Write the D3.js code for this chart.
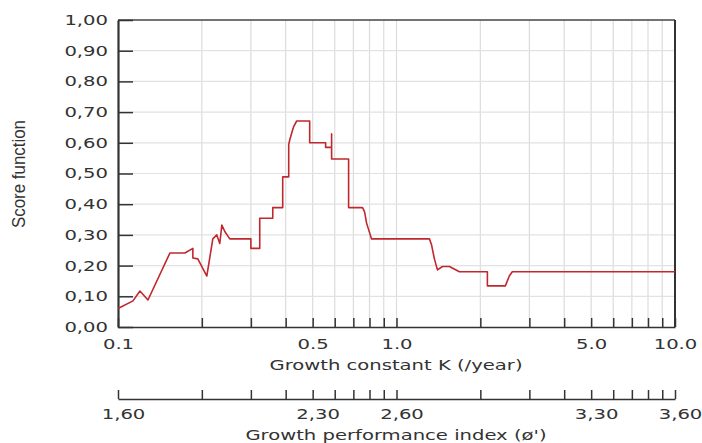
<!DOCTYPE html>
<html>
<head>
  <meta charset="UTF-8">
  <title>Score function</title>
  <script src="https://cdn.jsdelivr.net/npm/d3@7"></script>
  <style>
    body { margin: 0; background: #fff; }
    text { font-family: "DejaVu Sans", Verdana, sans-serif; fill: #333; }
  </style>
</head>
<body>
<div id="chart"></div>
<script>
// growth constant K (/year) and score
var kValues = [0.1, 0.1132, 0.1199, 0.1281, 0.1536, 0.1739, 0.1857, 0.1857, 0.1935, 0.2084,
  0.219, 0.2263, 0.232, 0.236, 0.2418, 0.252, 0.30, 0.30, 0.3228, 0.3228,
  0.3595, 0.3595, 0.3903, 0.3903, 0.4102, 0.4102, 0.4136, 0.4205, 0.4274, 0.4381,
  0.4878, 0.4878, 0.5566, 0.5566, 0.5848, 0.5848, 0.5848, 0.673, 0.673, 0.7553,
  0.768, 0.7806, 0.7936, 0.8136, 1.313, 1.335, 1.368, 1.403, 1.462, 1.549,
  1.682, 2.12, 2.12, 2.459, 2.541, 2.605, 10];
var scores = [0.06, 0.085, 0.117, 0.088, 0.241, 0.241, 0.256, 0.225, 0.222, 0.166,
  0.287, 0.30, 0.272, 0.332, 0.311, 0.287, 0.287, 0.256, 0.256, 0.354,
  0.354, 0.389, 0.389, 0.489, 0.489, 0.594, 0.609, 0.632, 0.653, 0.671,
  0.671, 0.60, 0.60, 0.585, 0.585, 0.629, 0.547, 0.547, 0.389, 0.389,
  0.375, 0.339, 0.318, 0.287, 0.287, 0.269, 0.222, 0.186, 0.197, 0.197,
  0.18, 0.18, 0.134, 0.134, 0.166, 0.18, 0.18];

var yTicks = [0, 0.1, 0.2, 0.3, 0.4, 0.5, 0.6, 0.7, 0.8, 0.9, 1.0];
var kTicks = [0.1, 0.2, 0.3, 0.4, 0.5, 0.6, 0.7, 0.8, 0.9, 1, 2, 3, 4, 5, 6, 7, 8, 9, 10];
var kLabelValues = [0.1, 0.5, 1, 5, 10];
var kLabels = ["0.1", "0.5", "1.0", "5.0", "10.0"];
var phiLabels = ["1,60", "2,30", "2,60", "3,30", "3,60"];

var W = 702, H = 443;
var plotL = 118, plotR = 675, plotT = 20, plotB = 327;
var stretch = 1.4;

var svg = d3.select("#chart").append("svg").attr("width", W).attr("height", H);

var x = d3.scaleLog().domain([0.1, 10]).range([plotL, plotR]);
var y = d3.scaleLinear().domain([0, 1]).range([plotB, plotT]);

// grid
svg.append("g").selectAll("line").data(kTicks.slice(1, -1)).join("line")
  .attr("x1", d => x(d)).attr("x2", d => x(d))
  .attr("y1", plotT).attr("y2", plotB)
  .attr("stroke", "#dcdcdc").attr("stroke-width", 1.2);
svg.append("g").selectAll("line").data(yTicks.slice(1, -1)).join("line")
  .attr("x1", plotL).attr("x2", plotR)
  .attr("y1", d => y(d)).attr("y2", d => y(d))
  .attr("stroke", "#e2e2e2").attr("stroke-width", 1.2);

// frame top and right
svg.append("line").attr("x1", plotL).attr("x2", plotR).attr("y1", plotT).attr("y2", plotT)
  .attr("stroke", "#444").attr("stroke-width", 1.5);
svg.append("line").attr("x1", plotR).attr("x2", plotR).attr("y1", plotT).attr("y2", plotB)
  .attr("stroke", "#333").attr("stroke-width", 2);

function labelFor(d) {
  var i = kLabelValues.indexOf(d);
  return i < 0 ? "" : kLabels[i];
}

// bottom K axis
var xAxis = d3.axisBottom(x).tickValues(kTicks).tickFormat(labelFor)
  .tickSizeInner(-9).tickSizeOuter(0).tickPadding(12);
var gx = svg.append("g").attr("transform", "translate(0," + plotB + ")").call(xAxis);
gx.select(".domain").attr("stroke", "#333").attr("stroke-width", 1.5);
gx.selectAll(".tick line").attr("stroke", "#333").attr("stroke-width", 1.5);
gx.selectAll(".tick text").attr("font-size", 14).attr("font-family", null)
  .attr("transform", "scale(" + stretch + ",1)");

// left score axis
var yAxis = d3.axisLeft(y).tickValues(yTicks)
  .tickFormat(d => d3.format(".2f")(d).replace(".", ","))
  .tickSizeInner(-15).tickSizeOuter(0).tickPadding(0);
var gy = svg.append("g").attr("transform", "translate(" + plotL + ",0)").call(yAxis);
gy.select(".domain").attr("stroke", "#333").attr("stroke-width", 2.2);
gy.selectAll(".tick line").attr("stroke", "#333").attr("stroke-width", 1.5);
gy.selectAll(".tick text").attr("font-size", 14).attr("font-family", null)
  .attr("x", 0).attr("transform", "translate(-10,0) scale(" + stretch + ",1)");

// curve
var pts = kValues.map((k, i) => ({k: k, s: scores[i]}));
svg.append("path").datum(pts)
  .attr("fill", "none").attr("stroke", "#c0282d").attr("stroke-width", 1.6)
  .attr("stroke-linejoin", "round")
  .attr("d", d3.line().x(d => x(d.k)).y(d => y(d.s)));

// second axis: growth performance index
var phiY = 399;
var phiAxis = d3.axisBottom(x).tickValues(kTicks)
  .tickFormat(d => {
    var i = kLabelValues.indexOf(d);
    return i < 0 ? "" : phiLabels[i];
  })
  .tickSizeInner(-9).tickSizeOuter(0).tickPadding(10);
var gp = svg.append("g").attr("transform", "translate(0," + phiY + ")").call(phiAxis);
gp.select(".domain").attr("stroke", "#333").attr("stroke-width", 1.5);
gp.selectAll(".tick line").attr("stroke", "#333").attr("stroke-width", 1.5);
gp.selectAll(".tick text").attr("font-size", 14).attr("font-family", null)
  .attr("transform", "translate(5,0) scale(" + stretch + ",1)");

// titles
svg.append("text")
  .attr("transform", "translate(396,370) scale(" + stretch + ",1)")
  .attr("text-anchor", "middle").attr("font-size", 14)
  .text("Growth constant K (/year)");
svg.append("text")
  .attr("transform", "translate(396,440) scale(" + stretch + ",1)")
  .attr("text-anchor", "middle").attr("font-size", 14)
  .text("Growth performance index (ø')");
svg.append("text")
  .attr("transform", "translate(25,174) rotate(-90) scale(1," + stretch + ")")
  .attr("text-anchor", "middle").attr("font-size", 13)
  .style("font-family", "'Liberation Sans', Arial, sans-serif")
  .attr("textLength", 108).attr("lengthAdjust", "spacingAndGlyphs")
  .text("Score function");
</script>
</body>
</html>
